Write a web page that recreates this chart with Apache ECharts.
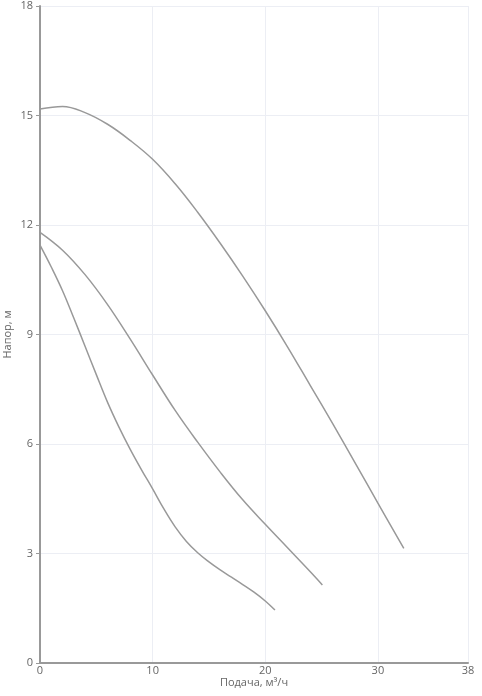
<!DOCTYPE html>
<html>
<head>
<meta charset="utf-8">
<script src="https://cdn.jsdelivr.net/npm/echarts@6/dist/echarts.min.js"></script>
<style>html,body{margin:0;padding:0;background:#fff}#c{width:482px;height:696px}</style>
</head>
<body>
<div id="c"></div>
<script>
const xTicks = [0, 10, 20, 30, 38];
const yTicks = [0, 3, 6, 9, 12, 15, 18];
const curve1 = [[0,15.18],[2,15.25],[4,15.08],[6,14.76],[8,14.32],[10,13.8],[12,13.13],[14,12.35],[16,11.5],[18,10.6],[20,9.65],[22,8.65],[24,7.6],[26,6.55],[28,5.47],[30,4.38],[32.3,3.14]];
const curve2 = [[0,11.8],[2,11.31],[4,10.64],[6,9.82],[8,8.88],[10,7.89],[12,6.92],[14,6.05],[16,5.23],[18,4.47],[20,3.8],[22,3.15],[24,2.5],[25.07,2.14]];
const curve3 = [[0,11.45],[1,10.85],[2,10.2],[3,9.45],[4,8.68],[5,7.9],[6,7.14],[7,6.47],[8,5.86],[9,5.3],[10,4.77],[11,4.22],[12,3.73],[13,3.33],[14,3.02],[15,2.77],[16,2.55],[17,2.35],[18,2.15],[19,1.94],[20,1.7],[20.86,1.45]];

const chart = echarts.init(document.getElementById('c'));
const lineStyle = {color:'#999', width:1.5};
const mk = d => ({type:'line', data:d, smooth:0.4, showSymbol:false, symbol:'none', lineStyle:lineStyle, silent:true, animation:false});
chart.setOption({
  animation:false,
  grid:{left:40, top:6, right:14, bottom:33, containLabel:false, outerBoundsMode:'none'},
  xAxis:{type:'value', min:xTicks[0], max:xTicks[xTicks.length-1], interval:10,
    name:'Подача, м³/ч', nameLocation:'middle', nameGap:14, nameMoveOverlap:false,
    nameTextStyle:{color:'#666', fontSize:11, fontFamily:'Open Sans'},
    axisLine:{show:true, lineStyle:{color:'#999', width:2}},
    axisTick:{show:false},
    axisLabel:{color:'#666', fontSize:11, fontFamily:'Open Sans', margin:2},
    splitLine:{show:true, lineStyle:{color:'#eceef4', width:1}}
  },
  yAxis:{type:'value', min:yTicks[0], max:yTicks[yTicks.length-1], interval:3,
    name:'Напор, м', nameLocation:'middle', nameGap:27, nameRotate:90, nameMoveOverlap:false,
    nameTextStyle:{color:'#666', fontSize:11, fontFamily:'Open Sans'},
    axisLine:{show:true, lineStyle:{color:'#999', width:2}},
    axisTick:{show:true, length:4, lineStyle:{color:'#999'}},
    axisLabel:{color:'#666', fontSize:11, fontFamily:'Open Sans', margin:7, verticalAlign:'middle', padding:[0,0,3,0]},
    splitLine:{show:true, lineStyle:{color:'#eceef4', width:1}}
  },
  series:[mk(curve1), mk(curve2), mk(curve3)]
});
</script>
</body>
</html>
